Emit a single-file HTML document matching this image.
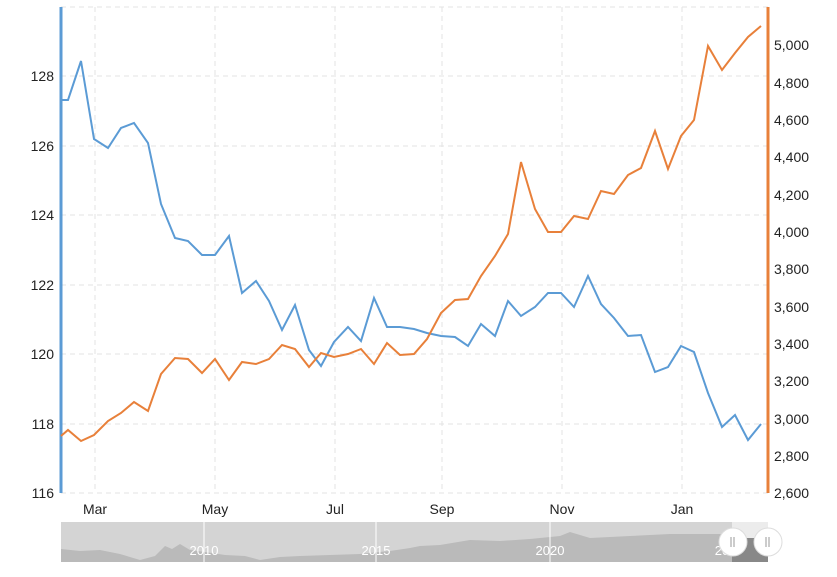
<!DOCTYPE html>
<html><head><meta charset="utf-8"><style>
body{margin:0;background:#fff;}
svg{display:block;font-family:"Liberation Sans",Verdana,sans-serif;}
</style></head><body>
<svg width="837" height="577" xmlns="http://www.w3.org/2000/svg">
<g stroke="#e3e3e3" stroke-dasharray="5,4" stroke-width="1">
<line x1="61" y1="7" x2="768" y2="7"/>
<line x1="61" y1="76" x2="768" y2="76"/>
<line x1="61" y1="146" x2="768" y2="146"/>
<line x1="61" y1="215" x2="768" y2="215"/>
<line x1="61" y1="285" x2="768" y2="285"/>
<line x1="61" y1="354" x2="768" y2="354"/>
<line x1="61" y1="424" x2="768" y2="424"/>
<line x1="61" y1="493" x2="768" y2="493"/>
<line x1="95" y1="7" x2="95" y2="493"/>
<line x1="215" y1="7" x2="215" y2="493"/>
<line x1="335" y1="7" x2="335" y2="493"/>
<line x1="442" y1="7" x2="442" y2="493"/>
<line x1="562" y1="7" x2="562" y2="493"/>
<line x1="682" y1="7" x2="682" y2="493"/>
</g>
<line x1="61" y1="7" x2="61" y2="493" stroke="#5b9bd5" stroke-width="3"/>
<line x1="768" y1="7" x2="768" y2="493" stroke="#e8803a" stroke-width="3"/>
<g font-size="14" fill="#222" text-anchor="end">
<text x="54" y="81">128</text><text x="54" y="151">126</text><text x="54" y="220">124</text>
<text x="54" y="290">122</text><text x="54" y="359">120</text><text x="54" y="429">118</text><text x="54" y="498">116</text>
</g>
<g font-size="14" fill="#222">
<text x="774" y="50">5,000</text><text x="774" y="88">4,800</text><text x="774" y="125">4,600</text>
<text x="774" y="162">4,400</text><text x="774" y="200">4,200</text><text x="774" y="237">4,000</text>
<text x="774" y="274">3,800</text><text x="774" y="312">3,600</text><text x="774" y="349">3,400</text>
<text x="774" y="386">3,200</text><text x="774" y="424">3,000</text><text x="774" y="461">2,800</text><text x="774" y="498">2,600</text>
</g>
<g font-size="14" fill="#222" text-anchor="middle">
<text x="95" y="514">Mar</text><text x="215" y="514">May</text><text x="335" y="514">Jul</text>
<text x="442" y="514">Sep</text><text x="562" y="514">Nov</text><text x="682" y="514">Jan</text>
</g>
<polyline fill="none" stroke="#5b9bd5" stroke-width="2" points="61,100 68,100 81,61 94,139 108,148 121,128 134,123 148,143 161,204 175,238 188,241 202,255 215,255 229,236 242,293 256,281 269,301 282,330 295,305 309,350 321,366 334,342 348,327 361,341 374,298 387,327 400,327 414,329 427,333 441,336 455,337 468,346 481,324 495,336 508,301 521,316 535,307 548,293 561,293 574,307 588,276 601,304 614,318 628,336 641,335 655,372 668,367 681,346 694,352 708,393 722,427 735,415 748,440 761,424"/>
<polyline fill="none" stroke="#e8803a" stroke-width="2" points="61,436 68,430 81,441 94,435 108,421 121,413 134,402 148,411 161,374 175,358 188,359 202,373 215,359 229,380 242,362 256,364 269,359 282,345 295,349 309,367 321,353 334,357 348,354 361,349 374,364 387,343 400,355 414,354 427,339 441,313 455,300 468,299 481,276 495,256 508,234 521,162 535,209 548,232 561,232 574,216 588,219 601,191 614,194 628,175 641,168 655,131 668,169 681,136 694,120 708,46 722,70 735,53 748,37 761,26"/>
<rect x="61" y="522" width="707" height="40" fill="#d4d4d4"/>
<polygon fill="#bababa" points="61,562 61,549 80,551 100,550 120,554 140,560 155,556 165,546 172,549 180,544 190,550 205,552 225,555 245,556 260,560 280,557 300,556 330,555 360,554 390,551 410,548 420,546 440,545 470,540 500,541 530,539 560,536 570,532 590,538 610,537 630,536 650,535 670,534 700,534 732,534 732,562"/>
<rect x="732" y="522" width="36" height="40" fill="#ececec"/>
<rect x="732" y="538" width="36" height="24" fill="#888"/>
<g stroke="#fff" stroke-width="1"><line x1="204" y1="522" x2="204" y2="562"/><line x1="376" y1="522" x2="376" y2="562"/><line x1="550" y1="522" x2="550" y2="562"/></g>
<g font-size="13" fill="#fff" text-anchor="middle"><text x="204" y="555">2010</text><text x="376" y="555">2015</text><text x="550" y="555">2020</text><text x="722" y="555">20</text></g>
<circle cx="733" cy="542" r="14" fill="#fff" stroke="#ddd"/>
<circle cx="768" cy="542" r="14" fill="#fff" stroke="#ddd"/>
<g stroke="#999"><line x1="731" y1="537" x2="731" y2="547"/><line x1="734" y1="537" x2="734" y2="547"/><line x1="766" y1="537" x2="766" y2="547"/><line x1="769" y1="537" x2="769" y2="547"/></g>
</svg>
</body></html>
